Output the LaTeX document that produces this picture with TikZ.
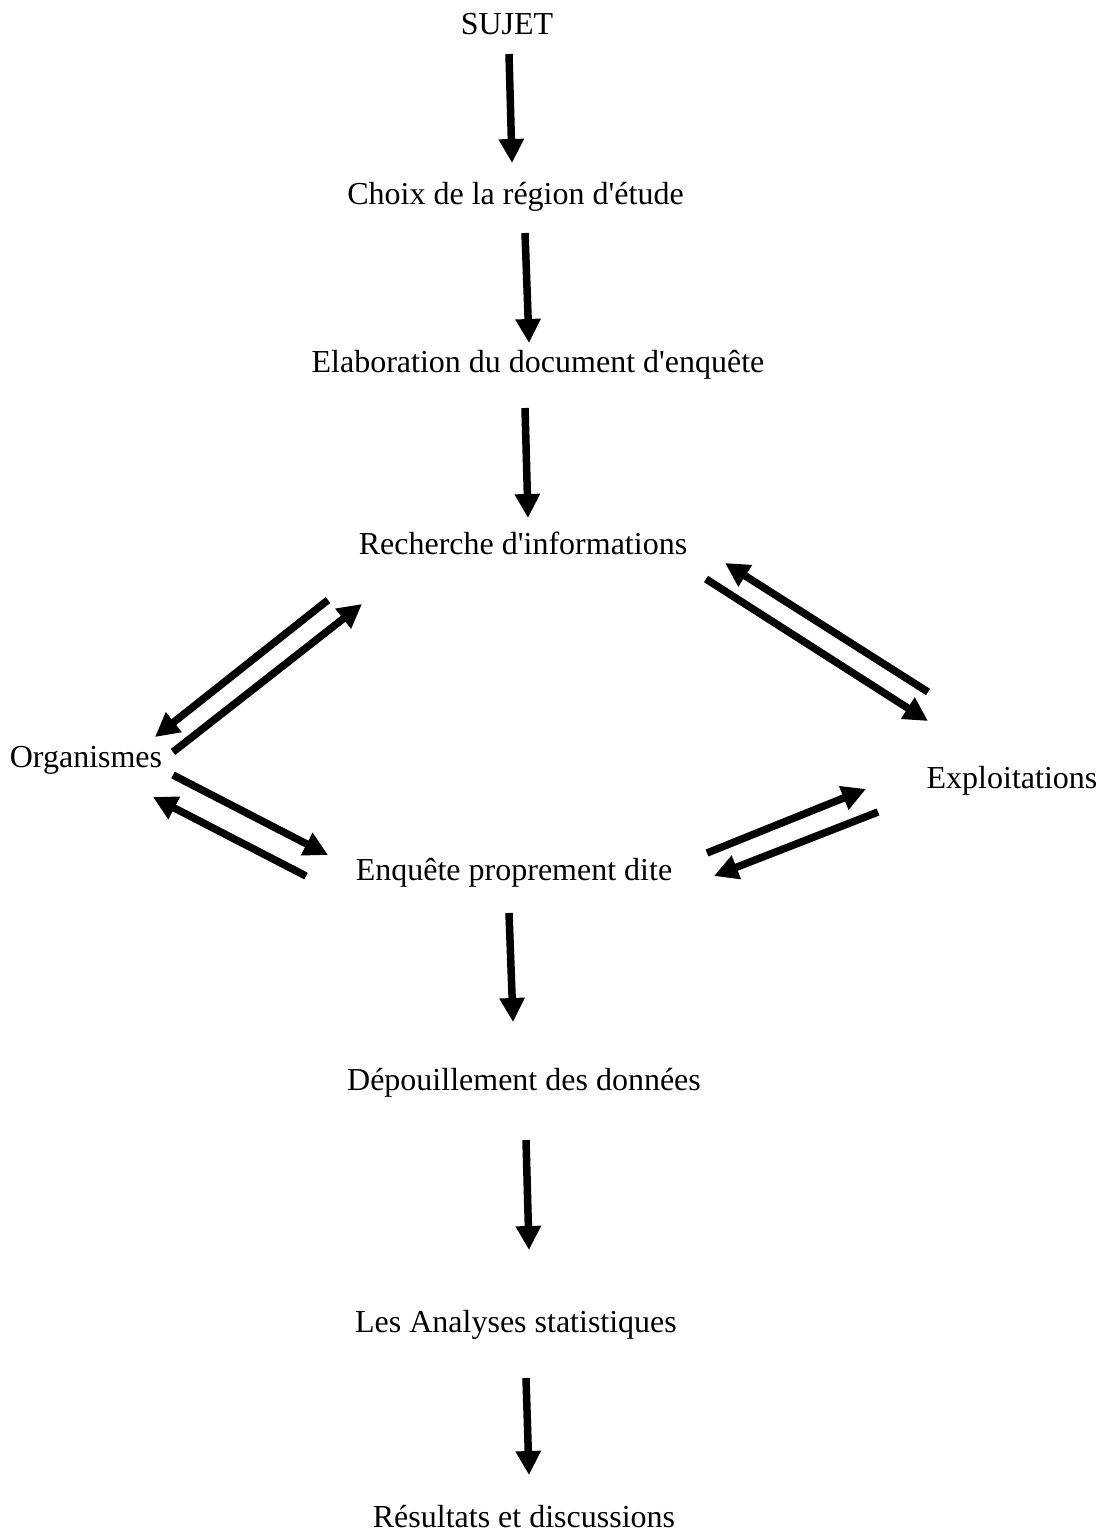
\documentclass[tikz,border=0pt]{standalone}
\usepackage{fontspec}
\setmainfont{Liberation Serif}[Ligatures=TeXOff]
\usetikzlibrary{arrows.meta}
\begin{document}
\begin{tikzpicture}[x=1pt,y=-1pt,
  lbl/.style={anchor=base,inner sep=0pt,font=\fontsize{32}{38}\selectfont},
  flow/.style={line width=7.5pt,-{Triangle[length=24pt,width=24pt]}}]
\useasboundingbox (0,0) rectangle (1105,1538);
% labels
\node[lbl] (sujet) at (507,35) {SUJET};
\node[lbl] (choix) at (515.5,205) {Choix de la région d'étude};
\node[lbl] (elab) at (538,372) {Elaboration du document d'enquête};
\node[lbl] (rech) at (523,554) {Recherche d'informations};
\node[lbl] (org) at (86,767) {Organismes};
\node[lbl] (expl) at (1012,788) {Exploitations};
\node[lbl] (enq) at (514,880) {Enquête proprement dite};
\node[lbl] (dep) at (524,1090) {Dépouillement des données};
\node[lbl] (ana) at (516,1332) {Les Analyses statistiques};
\node[lbl] (res) at (524,1527) {Résultats et discussions};
% connector end points
\coordinate (a1s) at (509,54);   \coordinate (a1e) at (512,163);
\coordinate (a2s) at (525,233);  \coordinate (a2e) at (529,343);
\coordinate (a3s) at (525,408);  \coordinate (a3e) at (528,518);
\coordinate (a4s) at (328,600);  \coordinate (a4e) at (155,737);
\coordinate (a5s) at (173,752);  \coordinate (a5e) at (362,604);
\coordinate (a6s) at (706,579);  \coordinate (a6e) at (928,721);
\coordinate (a7s) at (928,692);  \coordinate (a7e) at (725,563);
\coordinate (a8s) at (173,775);  \coordinate (a8e) at (328,855);
\coordinate (a9s) at (306,876);  \coordinate (a9e) at (153,797);
\coordinate (a10s) at (707,853); \coordinate (a10e) at (866,789);
\coordinate (a11s) at (878,812); \coordinate (a11e) at (714,876);
\coordinate (a12s) at (509,913); \coordinate (a12e) at (513,1022);
\coordinate (a13s) at (526,1140);\coordinate (a13e) at (529,1250);
\coordinate (a14s) at (526,1378);\coordinate (a14e) at (529,1475);
% connectors
\draw[flow] (a1s) -- (a1e);
\draw[flow] (a2s) -- (a2e);
\draw[flow] (a3s) -- (a3e);
\draw[flow] (a4s) -- (a4e);
\draw[flow] (a5s) -- (a5e);
\draw[flow] (a6s) -- (a6e);
\draw[flow] (a7s) -- (a7e);
\draw[flow] (a8s) -- (a8e);
\draw[flow] (a9s) -- (a9e);
\draw[flow] (a10s) -- (a10e);
\draw[flow] (a11s) -- (a11e);
\draw[flow] (a12s) -- (a12e);
\draw[flow] (a13s) -- (a13e);
\draw[flow] (a14s) -- (a14e);
\end{tikzpicture}
\end{document}
